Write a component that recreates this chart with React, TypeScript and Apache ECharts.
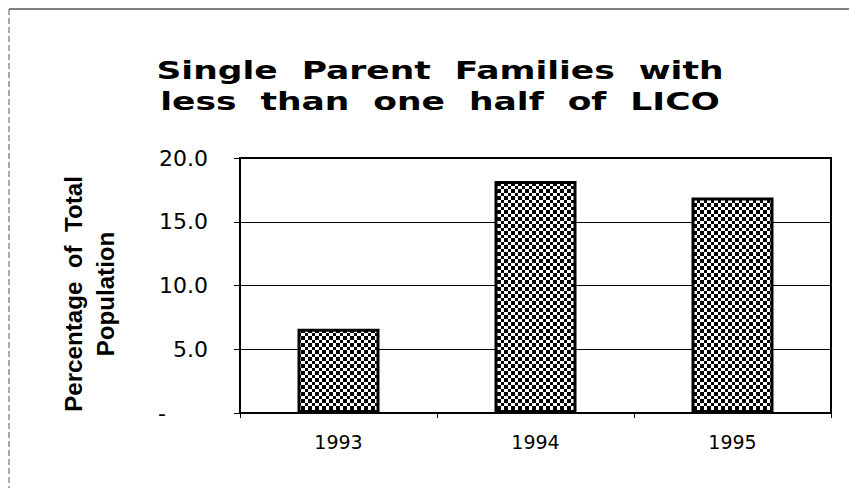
import React, { useEffect, useRef } from "react";
import * as echarts from "echarts";

const categories = ["1993", "1994", "1995"];
const values = [6.6, 18.2, 16.9];
const yTicks = [0, 5, 10, 15, 20];
const titleLines = ["Single  Parent  Families  with", "less  than  one  half  of  LICO"];
const yAxisName = ["Percentage  of  Total", "Population"];

function makePattern(): string {
  const c = document.createElement("canvas");
  c.width = 7;
  c.height = 7;
  const ctx = c.getContext("2d")!;
  ctx.fillStyle = "#ffffff";
  ctx.fillRect(0, 0, 7, 7);
  ctx.fillStyle = "#000000";
  ctx.fillRect(0, 0, 4, 4);
  ctx.fillRect(4, 4, 3, 3);
  return c.toDataURL();
}

export default function App() {
  const ref = useRef<HTMLDivElement>(null);
  useEffect(() => {
    if (!ref.current) return;
    const chart = echarts.init(ref.current, null, { renderer: "svg" });
    const pattern = makePattern();
    const font = "'DejaVu Sans', 'Liberation Sans', Arial, sans-serif";
    chart.setOption({
      animation: false,
      backgroundColor: "#ffffff",
      graphic: [
        {
          type: "line",
          shape: { x1: 9, y1: 9, x2: 849, y2: 9 },
          style: { stroke: "#000", lineWidth: 1 },
        },
        {
          type: "line",
          shape: { x1: 9, y1: 9, x2: 9, y2: 488 },
          style: { stroke: "#555", lineWidth: 1, lineDash: [6, 3] },
        },
        {
          type: "text",
          x: 440,
          y: 86,
          scaleX: 1.38,
          style: {
            text: titleLines.join("\n"),
            font: "bold 25px 'DejaVu Sans', 'Liberation Sans', Arial, sans-serif",
            fill: "#000",
            align: "center",
            verticalAlign: "middle",
            lineHeight: 31,
          },
        },
        {
          type: "text",
          x: 90,
          y: 294,
          rotation: Math.PI / 2,
          scaleX: 1.05,
          style: {
            text: yAxisName.join("\n"),
            font: "bold 23px 'Liberation Sans', Arial, sans-serif",
            fill: "#000",
            align: "center",
            verticalAlign: "middle",
            lineHeight: 32,
          },
        },
      ],
      grid: {
        left: 240,
        right: 18,
        top: 158,
        bottom: 75,
        show: true,
        borderColor: "#000",
        borderWidth: 2,
      },
      xAxis: {
        type: "category",
        data: categories,
        axisLine: { show: true, lineStyle: { color: "#000", width: 2 } },
        axisTick: { show: true, alignWithLabel: false, length: 5, lineStyle: { color: "#000" } },
        axisLabel: {
          color: "#000",
          fontFamily: font,
          fontSize: 19,
          margin: 19,
        },
      },
      yAxis: {
        type: "value",
        min: 0,
        max: 20,
        interval: 5,
        axisLine: { show: true, lineStyle: { color: "#000", width: 2 } },
        axisTick: { show: true, length: 6, lineStyle: { color: "#000" } },
        splitLine: { show: true, lineStyle: { color: "#000", width: 1 } },
        axisLabel: {
          color: "#000",
          fontFamily: font,
          fontSize: 22,
          margin: 32,
          formatter: (v: number) => (yTicks.includes(v) && v === 0 ? "{z|-}" : v.toFixed(1)),
          rich: {
            z: { fontFamily: font, fontSize: 22, color: "#000", padding: [0, 42, 0, 0] },
          },
        },
      },
      series: [
        {
          type: "bar",
          data: values,
          barWidth: 82,
          itemStyle: {
            color: { image: pattern, repeat: "repeat" },
            borderColor: "#000",
            borderWidth: 3,
          },
        },
      ],
    });
    return () => chart.dispose();
  }, []);
  return <div ref={ref} style={{ width: 849, height: 488, position: "absolute", left: 0, top: 0 }} />;
}
